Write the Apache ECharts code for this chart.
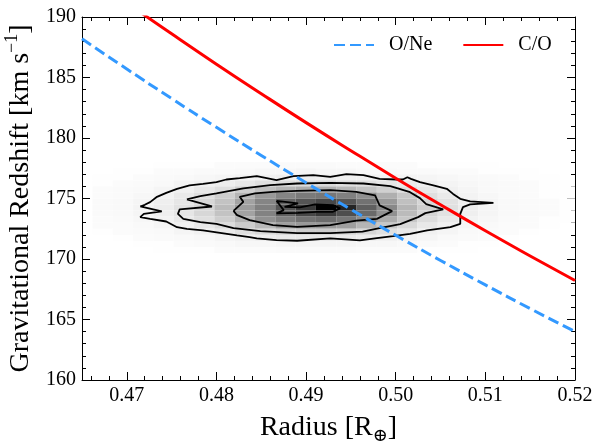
<!DOCTYPE html>
<html>
<head>
<meta charset="utf-8">
<script src="https://cdn.jsdelivr.net/npm/echarts@6/dist/echarts.min.js"></script>
<style>
  html, body { margin: 0; padding: 0; background: #fff; }
  #chart { width: 600px; height: 446px; }
</style>
</head>
<body>
<div id="chart"></div>
<script>
var SERIF = '"Liberation Serif", "DejaVu Serif", serif';

// model curves: radius [R_earth] -> gravitational redshift [km/s]
var modelRadius = [0.465, 0.470, 0.475, 0.480, 0.485, 0.490, 0.495, 0.500, 0.505, 0.510, 0.515, 0.520];
var oneRedshift = [188.20, 185.70, 183.26, 180.88, 178.56, 176.30, 174.10, 171.96, 169.88, 167.86, 165.90, 164.00];
var coRedshift = [193.80, 191.17, 188.61, 186.10, 183.66, 181.27, 178.95, 176.68, 174.48, 172.33, 170.25, 168.22];

// 2d histogram of the posterior samples (rows from the top, 0..100 shade)
var binX0 = 0.46617;
var binDX = 0.002266;
var binYTop = 178.0;
var binDY = 0.5;
var histRows = [
  [0,0,0,1,1,1,3,3,3,4,4,4,3,3,3,3,1,1,1,1,0,0,0,0],
  [0,1,1,3,3,4,4,5,7,7,8,7,7,5,5,4,4,3,3,1,1,1,0,0],
  [1,1,3,4,5,7,8,10,12,13,14,13,12,12,10,9,8,7,5,4,3,1,1,0],
  [1,3,4,5,9,12,14,17,21,23,23,25,22,21,18,16,13,9,7,5,4,3,1,1],
  [3,4,5,8,12,17,22,30,36,40,43,42,39,35,29,22,17,12,8,5,4,3,1,1],
  [3,4,7,10,16,22,30,40,49,56,60,61,58,52,42,33,22,16,10,7,4,3,1,1],
  [4,5,8,13,18,26,35,46,56,68,74,78,74,63,49,36,27,20,13,8,5,4,3,1],
  [4,5,9,14,20,27,38,48,58,74,82,100,88,70,55,40,30,21,14,9,5,4,3,1],
  [4,5,8,13,18,26,35,46,57,70,78,82,76,66,52,38,27,20,13,8,5,4,3,1],
  [3,4,7,10,16,22,30,40,52,58,63,65,61,54,43,33,23,16,10,7,4,3,1,1],
  [3,3,5,8,12,17,23,31,39,47,49,49,47,40,33,25,17,12,8,5,3,3,1,0],
  [1,3,4,5,8,12,16,21,25,29,31,31,29,26,21,17,12,8,5,4,3,1,0,0],
  [0,1,3,4,5,7,9,12,14,16,17,17,16,14,13,10,8,5,4,3,1,0,0,0],
  [0,0,1,1,3,4,5,7,7,8,8,8,8,7,7,5,4,3,1,1,0,0,0,0],
  [0,0,0,1,1,1,3,3,3,4,4,4,4,3,3,3,1,1,1,0,0,0,0,0]
];

// contour levels of the histogram, outer to inner
var contour1 = [[0.4715,174.34],[0.4720,174.48],[0.4726,174.70],[0.4733,175.11],[0.4744,175.47],[0.4756,175.80],
  [0.4770,176.08],[0.4785,176.21],[0.4800,176.35],[0.4811,176.57],[0.4826,176.68],[0.4845,176.85],[0.4867,176.52],
  [0.4886,176.85],[0.4908,176.93],[0.4927,176.79],[0.4945,177.01],[0.4964,176.93],[0.4982,176.62],[0.5001,176.57],
  [0.5008,176.57],[0.5013,176.76],[0.5017,176.62],[0.5027,176.35],[0.5042,176.08],[0.5057,175.80],[0.5064,175.38],
  [0.5072,174.97],[0.5083,174.76],[0.5109,174.64],[0.5083,174.51],[0.5075,174.29],[0.5072,173.73],[0.5072,172.91],
  [0.5061,172.63],[0.5035,172.36],[0.5016,172.08],[0.4997,171.89],[0.4979,171.73],[0.4960,171.54],[0.4927,171.70],
  [0.4890,171.51],[0.4867,171.56],[0.4845,171.70],[0.4837,171.81],[0.4823,171.95],[0.4804,172.16],[0.4785,172.36],
  [0.4767,172.49],[0.4756,172.63],[0.4744,173.10],[0.4726,173.32],[0.4715,173.46],[0.4719,173.73],[0.4739,173.93],
  [0.4715,174.34]];
var contour2 = [[0.4767,174.92],[0.4782,175.19],[0.4800,175.42],[0.4830,175.83],[0.4860,176.10],[0.4890,176.24],
  [0.4927,176.29],[0.4964,176.24],[0.4994,176.02],[0.5016,175.52],[0.5027,175.03],[0.5034,174.54],[0.5053,174.10],
  [0.5033,173.79],[0.5025,173.46],[0.5005,172.88],[0.4982,172.55],[0.4963,172.26],[0.4927,172.14],[0.4890,172.14],
  [0.4849,172.30],[0.4819,172.55],[0.4800,172.91],[0.4782,173.05],[0.4763,173.32],[0.4757,173.73],[0.4759,174.10],
  [0.4795,174.34],[0.4767,174.92]];
var contour3 = [[0.4819,173.98],[0.4830,174.72],[0.4826,175.14],[0.4843,175.42],[0.4863,175.55],[0.4890,175.63],
  [0.4927,175.69],[0.4956,175.55],[0.4977,175.25],[0.4982,174.43],[0.4996,173.96],[0.4979,173.32],[0.4956,173.17],
  [0.4927,172.80],[0.4890,172.66],[0.4863,172.80],[0.4837,173.21],[0.4823,173.62],[0.4819,173.98]];
var contour4 = [[0.4867,174.81],[0.4891,174.59],[0.4876,174.31],[0.4893,174.26],[0.4910,174.51],[0.4930,174.45],
  [0.4938,174.18],[0.4930,173.90],[0.4912,173.90],[0.4891,173.81],[0.4867,173.77],[0.4875,174.04],[0.4867,174.81]];

var greys = ['#ffffff', '#f0f0f0', '#d9d9d9', '#bdbdbd', '#969696', '#737373', '#525252', '#252525', '#000000'];

var cells = [];
histRows.forEach(function (row, r) {
  row.forEach(function (v, c) {
    if (v > 0) {
      cells.push([binX0 + c * binDX, binYTop - (r + 1) * binDY, v]);
    }
  });
});

function contourSeries(points) {
  return {
    type: 'line',
    data: points,
    symbol: 'none',
    silent: true,
    z: 3,
    lineStyle: { color: '#000', width: 1.8 }
  };
}

function frameAxis(pos, isX) {
  var ax = {
    type: 'value',
    position: pos,
    axisLine: { show: true, onZero: false, lineStyle: { color: '#000', width: 1 } },
    axisTick: { show: true, inside: true, length: 8, lineStyle: { color: '#000', width: 1 } },
    minorTick: { show: true, splitNumber: 5, length: 4, lineStyle: { color: '#000', width: 1 } },
    splitLine: { show: false },
    axisLabel: { show: false }
  };
  if (isX) {
    ax.min = 0.465;
    ax.max = 0.52;
  } else {
    ax.min = 160;
    ax.max = 190;
    ax.interval = 5;
  }
  return ax;
}

var chart = echarts.init(document.getElementById('chart'));

var xMain = frameAxis('bottom', true);
xMain.axisLabel = {
  show: true, showMinLabel: false, margin: 6, color: '#000',
  fontFamily: SERIF, fontSize: 20,
  formatter: function (v) { return v.toFixed(2); }
};
xMain.name = '{a|Radius [R}{s|⊕}{a|]}';
xMain.nameLocation = 'middle';
xMain.nameGap = 31;
xMain.nameTextStyle = {
  rich: {
    a: { fontFamily: SERIF, fontSize: 28, color: '#000', lineHeight: 34 },
    s: { fontFamily: SERIF, fontSize: 18, color: '#000', lineHeight: 34, verticalAlign: 'bottom' }
  }
};

var yMain = frameAxis('left', false);
yMain.axisLabel = { show: true, margin: 6, color: '#000', fontFamily: SERIF, fontSize: 20 };
yMain.name = '{a|Gravitational Redshift [km s}{b|−1}{a|]}';
yMain.nameLocation = 'middle';
yMain.nameGap = 28;
yMain.nameTextStyle = {
  rich: {
    a: { fontFamily: SERIF, fontSize: 28, color: '#000', lineHeight: 36 },
    b: { fontFamily: SERIF, fontSize: 18, color: '#000', lineHeight: 20, verticalAlign: 'top' }
  }
};

var option = {
  backgroundColor: '#fff',
  animation: false,
  grid: { left: 82, right: 25, top: 17, bottom: 66, containLabel: false, outerBoundsMode: 'none' },
  xAxis: [xMain, frameAxis('top', true)],
  yAxis: [yMain, frameAxis('right', false)],
  visualMap: {
    show: false,
    seriesIndex: 0,
    dimension: 2,
    min: 0,
    max: 100,
    inRange: { color: greys }
  },
  legend: {
    data: ['O/Ne', 'C/O'],
    left: 328,
    top: 30,
    itemWidth: 40,
    itemHeight: 20,
    itemGap: 30,
    itemStyle: { opacity: 0 },
    textStyle: { fontFamily: SERIF, fontSize: 20, color: '#000', padding: [0, 0, 0, 10] }
  },
  series: [
    {
      type: 'custom',
      data: cells,
      encode: { x: 0, y: 1 },
      silent: true,
      clip: true,
      z: 1,
      renderItem: function (params, api) {
        var x0 = api.value(0);
        var y0 = api.value(1);
        var p1 = api.coord([x0, y0 + binDY]);
        var p2 = api.coord([x0 + binDX, y0]);
        return {
          type: 'rect',
          shape: { x: p1[0], y: p1[1], width: p2[0] - p1[0], height: p2[1] - p1[1] },
          style: { fill: api.visual('color') }
        };
      }
    },
    contourSeries(contour1),
    contourSeries(contour2),
    contourSeries(contour3),
    contourSeries(contour4),
    {
      name: 'O/Ne',
      type: 'line',
      smooth: true,
      symbol: 'none',
      z: 5,
      data: modelRadius.map(function (r, i) { return [r, oneRedshift[i]]; }),
      itemStyle: { color: '#3399ff' },
      lineStyle: { color: '#3399ff', width: 3, type: [11, 5] }
    },
    {
      name: 'C/O',
      type: 'line',
      smooth: true,
      symbol: 'none',
      z: 5,
      data: modelRadius.map(function (r, i) { return [r, coRedshift[i]]; }),
      itemStyle: { color: '#ff0000' },
      lineStyle: { color: '#ff0000', width: 3 }
    }
  ]
};

chart.setOption(option);
</script>
</body>
</html>
